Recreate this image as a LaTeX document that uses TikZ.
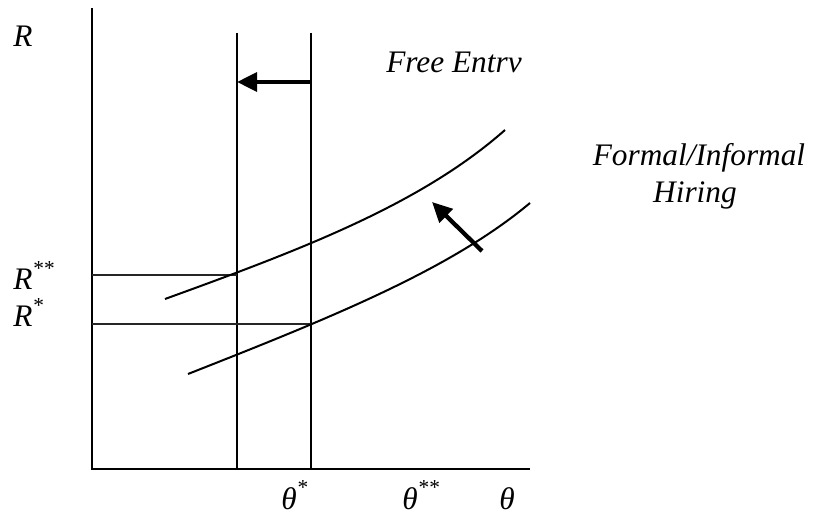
\documentclass[tikz,border=0pt]{standalone}
\usepackage{fontspec}
\setmainfont{Liberation Serif}
\usetikzlibrary{arrows.meta}
\newcommand{\stars}[1]{\raisebox{11pt}{\fontsize{16}{16}\selectfont #1}}
\begin{document}
\begin{tikzpicture}[x=0.75pt,y=-0.75pt,
  lbl/.style={font=\fontsize{23.5}{28}\selectfont\itshape, inner sep=0pt},
  ln/.style={line width=1.5pt},
  guide/.style={line width=1.2pt, black!85},
  bigarrow/.style={line width=3.2pt, -{Triangle[length=15pt,width=14pt]}}]
\useasboundingbox (0,0) rectangle (817,516);
% axes
\coordinate (top) at (92,8);
\coordinate (orig) at (92,469);
\coordinate (xend) at (530,469);
\draw[ln] (top) -- (orig) -- (xend);
% vertical lines
\coordinate (v1t) at (237,33); \coordinate (v1b) at (237,469);
\coordinate (v2t) at (311,33); \coordinate (v2b) at (311,469);
\draw[ln] (v1t) -- (v1b);
\draw[ln] (v2t) -- (v2b);
% horizontal guides
\coordinate (h1a) at (92,275); \coordinate (h1b) at (237,275);
\coordinate (h2a) at (92,324); \coordinate (h2b) at (311,324);
\draw[guide] (h1a) -- (h1b);
\draw[guide] (h2a) -- (h2b);
% curves
\coordinate (u0) at (165,299); \coordinate (u1) at (505,130);
\coordinate (l0) at (188,374); \coordinate (l1) at (530,203);
\draw[ln] (u0) .. controls (300,250) and (420,205) .. (u1);
\draw[ln] (l0) .. controls (330,318) and (450,270) .. (l1);
% arrows
\coordinate (a1s) at (311,82); \coordinate (a1e) at (237,82);
\draw[bigarrow] (a1s) -- (a1e);
\coordinate (a2s) at (482,251); \coordinate (a2e) at (432,202);
\draw[bigarrow] (a2s) -- (a2e);
% labels
\node[lbl, anchor=base west] (R) at (13,47) {R};
\node[lbl, anchor=base west] (Rss) at (13,290) {R\stars{**}};
\node[lbl, anchor=base west] (Rs) at (13,327) {R\stars{*}};
\node[lbl, anchor=base west] (fe) at (386,73) {Free Entrv};
\node[lbl, anchor=base] (fi) at (699,166) {Formal/Informal};
\node[lbl, anchor=base] (hi) at (695,203) {Hiring};
\node[lbl, anchor=base west] (ts) at (281,509) {θ\stars{*}};
\node[lbl, anchor=base west] (tss) at (402,509) {θ\stars{**}};
\node[lbl, anchor=base west] (t) at (499,509) {θ};
\end{tikzpicture}
\end{document}
